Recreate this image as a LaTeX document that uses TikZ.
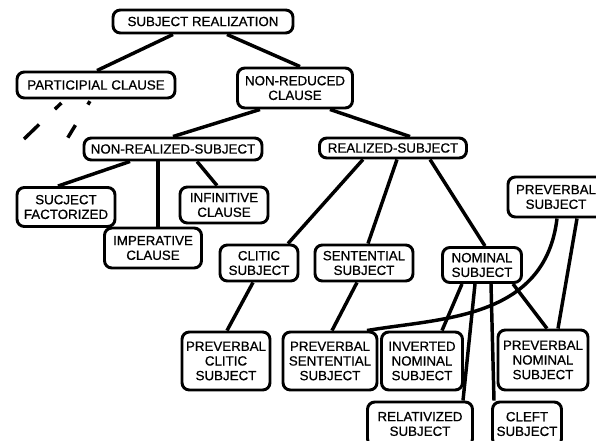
\documentclass[tikz,border=0pt]{standalone}
\usepackage{fontspec}
\setmainfont{Liberation Sans}
\newfontfamily\boxfont{Liberation Sans}[FakeBold=0.7]
\begin{document}
\begin{tikzpicture}[x=0.75pt,y=-0.75pt,
  box/.style={draw, line width=2.2pt, rounded corners=5.5pt, align=center,
    inner sep=0pt, font=\boxfont\fontsize{10}{11}\selectfont},
  edge/.style={line width=2.6pt},
  dashedge/.style={line width=2.6pt}]
\useasboundingbox (0,0) rectangle (596,440);
\clip (0,0) rectangle (596,440);
% nodes
\node[box, minimum width=135pt, minimum height=17.25pt] (sr) at (203,21.5) {SUBJECT REALIZATION};
\node[box, minimum width=118.5pt, minimum height=19.5pt] (pc) at (96,85) {PARTICIPIAL CLAUSE};
\node[box, minimum width=86.25pt, minimum height=30pt] (nrc) at (295,88) {NON-REDUCED\\CLAUSE};
\node[box, minimum width=133.5pt, minimum height=16.5pt] (nrs) at (173,149) {NON-REALIZED-SUBJECT};
\node[box, minimum width=110.25pt, minimum height=15pt] (rs) at (393,148) {REALIZED-SUBJECT};
\node[box, minimum width=73.5pt, minimum height=29.25pt] (sf) at (66,207) {SUCJECT\\FACTORIZED};
\node[box, minimum width=66pt, minimum height=27pt] (inf) at (224,205) {INFINITIVE\\CLAUSE};
\node[box, minimum width=72.75pt, minimum height=30pt] (imp) at (153,248) {IMPERATIVE\\CLAUSE};
\node[box, minimum width=58.5pt, minimum height=27pt] (cs) at (259,263) {CLITIC\\SUBJECT};
\node[box, minimum width=73.5pt, minimum height=27pt] (ss) at (364,263) {SENTENTIAL\\SUBJECT};
\node[box, minimum width=59.25pt, minimum height=26.25pt] (ns) at (482,265) {NOMINAL\\SUBJECT};
\node[box, minimum width=72pt, minimum height=30pt] (ps) at (556,197) {PREVERBAL\\SUBJECT};
\node[box, minimum width=66pt, minimum height=43.5pt] (pcs) at (226,361) {PREVERBAL\\CLITIC\\SUBJECT};
\node[box, minimum width=70.5pt, minimum height=43.5pt] (pss) at (330,361) {PREVERBAL\\SENTENTIAL\\SUBJECT};
\node[box, minimum width=60.75pt, minimum height=43.5pt] (ins) at (422,361) {INVERTED\\NOMINAL\\SUBJECT};
\node[box, minimum width=67.5pt, minimum height=45pt] (pns) at (543,360) {PREVERBAL\\NOMINAL\\SUBJECT};
\node[box, minimum width=78.75pt, minimum height=33pt] (rel) at (420,424) {RELATIVIZED\\SUBJECT};
\node[box, minimum width=51.75pt, minimum height=33pt] (cl) at (527,424) {CLEFT\\SUBJECT};
\coordinate (da) at (24,139);
\coordinate (db) at (67,139);
% connectors
\draw[edge] ([xshift=-22.5pt]sr.south) -- ([xshift=0.75pt]pc.north);
\draw[edge] ([xshift=18pt]sr.south) -- ([xshift=3.75pt]nrc.north);
\draw[edge] ([xshift=-26.25pt]nrc.south) -- (nrs.north);
\draw[edge] ([xshift=26.25pt]nrc.south) -- ([xshift=12.75pt]rs.north);
\draw[dashedge, dash pattern=on 0pt off 3.75pt on 6.75pt off 16.5pt on 17.25pt off 20pt] ([xshift=-23.25pt]pc.south) -- (da);
\draw[dashedge, dash pattern=on 0pt off 1.5pt on 3pt off 18pt on 11pt off 20pt] ([xshift=-3.75pt]pc.south) -- (db);
\draw[edge] ([xshift=-32.25pt]nrs.south) -- ([xshift=-6pt]sf.north);
\draw[edge] ([xshift=-11.25pt]nrs.south) -- ([xshift=3.75pt]imp.north);
\draw[edge] ([xshift=18pt]nrs.south) -- ([xshift=-5.25pt]inf.north);
\draw[edge] ([xshift=-22.5pt]rs.south) -- ([xshift=21.75pt]cs.north);
\draw[edge] ([xshift=3pt]rs.south) -- ([xshift=3pt]ss.north);
\draw[edge] ([xshift=27.75pt]rs.south) -- ([xshift=2.25pt]ns.north);
\draw[edge] ([xshift=-4.5pt]cs.south) -- ([xshift=0.75pt]pcs.north);
\draw[edge] ([xshift=-5.25pt]ss.south) -- ([xshift=1.5pt]pss.north);
\draw[edge] ([xshift=-15pt]ns.south) -- ([xshift=15pt]ins.north);
\draw[edge] ([xshift=-5.25pt]ns.south) -- ([xshift=32.25pt]rel.north);
\draw[edge] ([xshift=6.75pt]ns.south) -- ([xshift=-24.75pt]cl.north);
\draw[edge] ([xshift=23.25pt]ns.south) -- ([xshift=3pt]pns.north);
\draw[edge] ([xshift=15.75pt]ps.south) -- ([xshift=11.25pt]pns.north);
\draw[edge] ([xshift=0.75pt]ps.south) .. controls (545,320) and (440,318) .. ([xshift=27.75pt]pss.north);
\end{tikzpicture}
\end{document}
